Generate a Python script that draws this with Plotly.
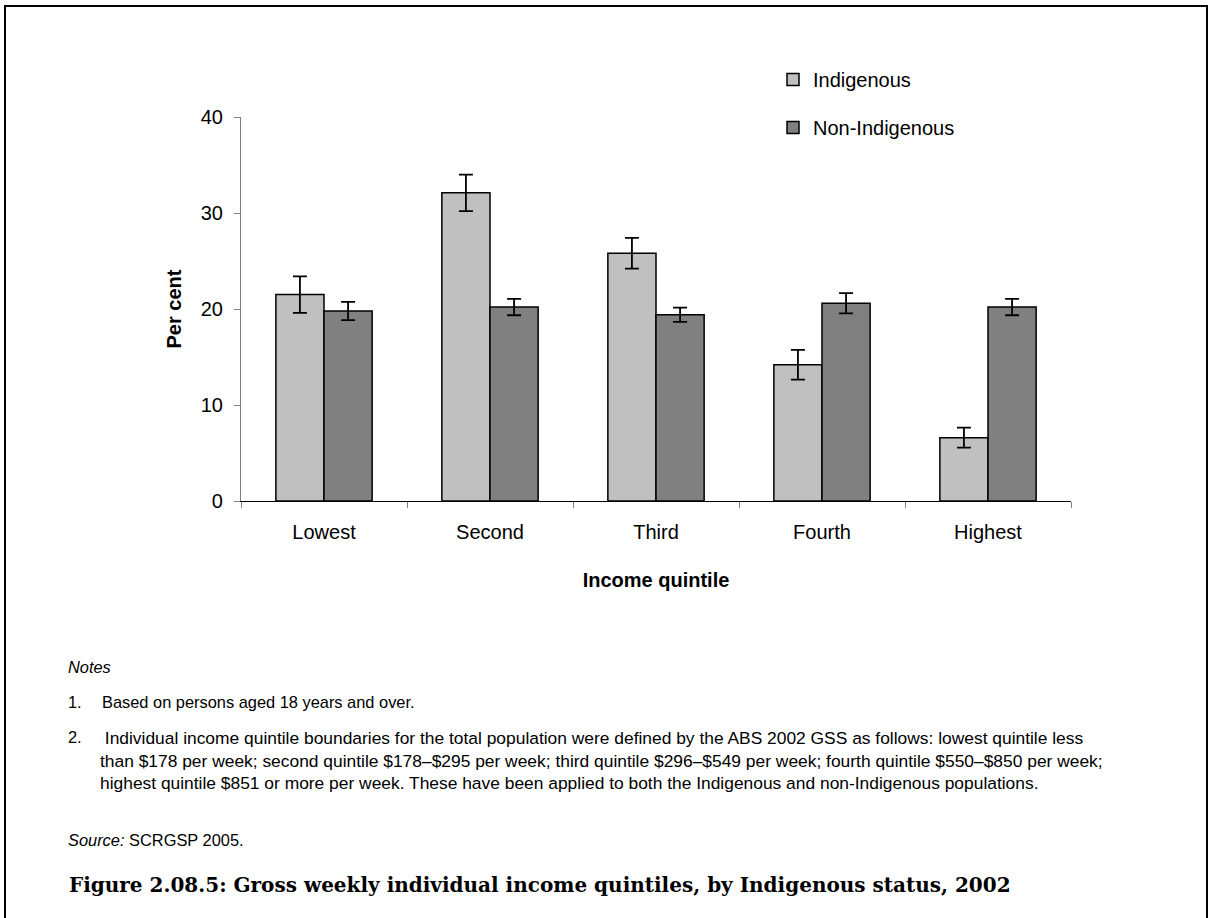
import plotly.graph_objects as go

categories = ["Lowest", "Second", "Third", "Fourth", "Highest"]
indigenous = [21.5, 32.1, 25.8, 14.2, 6.6]
indigenous_err = [1.9, 1.9, 1.6, 1.55, 1.05]
non_indigenous = [19.8, 20.2, 19.4, 20.6, 20.2]
non_indigenous_err = [0.95, 0.85, 0.75, 1.05, 0.85]
y_ticks = [0, 10, 20, 30, 40]

W, H = 1212, 918
L, R, T, B = 241, 1071, 117, 501  # plot area in pixels


def px(x):
    return (x - L) / (R - L)


def py(y):
    return (B - y) / (B - T)


fig = go.Figure()
fig.add_trace(go.Bar(
    name="Indigenous", x=categories, y=indigenous,
    marker=dict(color="#C0C0C0", line=dict(color="black", width=1.5)),
    error_y=dict(type="data", array=indigenous_err, color="black", thickness=1.8, width=7),
    legendgroup="a",
))
fig.add_trace(go.Bar(
    name="Non-Indigenous", x=categories, y=non_indigenous,
    marker=dict(color="#808080", line=dict(color="black", width=1.5)),
    error_y=dict(type="data", array=non_indigenous_err, color="black", thickness=1.8, width=7),
    legendgroup="b",
))

font_main = "Liberation Sans, Arial, sans-serif"

fig.update_layout(
    width=W, height=H,
    margin=dict(l=L, r=W - R, t=T, b=H - B, pad=0),
    paper_bgcolor="white", plot_bgcolor="white",
    barmode="group", bargap=0.42, bargroupgap=0,
    font=dict(family=font_main, size=20, color="black"),
    showlegend=True,
    legend=dict(x=px(773), y=py(60), xanchor="left", yanchor="top",
                font=dict(size=20), tracegroupgap=19, bgcolor="rgba(0,0,0,0)",
                itemwidth=30),
    xaxis=dict(
        showline=True, linecolor="black", linewidth=1.2,
        ticks="outside", ticklen=6, tickcolor="#808080", tickson="boundaries",
        showgrid=False, tickfont=dict(size=20), ticklabelstandoff=13,
        title=dict(text="<b>Income quintile</b>", font=dict(size=20), standoff=30),
    ),
    yaxis=dict(
        range=[0, 40], tickvals=y_ticks, showline=True, linecolor="#808080", linewidth=1.2,
        ticks="outside", ticklen=6, tickcolor="#808080", showgrid=False, zeroline=False,
        tickfont=dict(size=20), ticklabelstandoff=7,
        title=dict(text="<b>Per cent</b>", font=dict(size=20), standoff=13),
    ),
)

# outer frame
fig.add_shape(type="rect", xref="paper", yref="paper",
              x0=px(5), x1=px(1207), y0=py(930), y1=py(6),
              line=dict(color="black", width=2), fillcolor="rgba(0,0,0,0)")

notes_font = dict(family=font_main, size=16.4, color="black")
para_font = dict(family=font_main, size=17.4, color="black")


def note(x, y, text, font=notes_font):
    fig.add_annotation(xref="paper", yref="paper", x=px(x), y=py(y), text=text,
                       showarrow=False, xanchor="left", yanchor="middle", align="left",
                       font=font)


note(66, 667, "<i>Notes</i>")
note(66, 702, "1.")
note(100, 702, "Based on persons aged 18 years and over.")
note(66, 737, "2.")
fig.add_annotation(
    xref="paper", yref="paper", x=px(98), y=py(726), xanchor="left", yanchor="top",
    align="left", showarrow=False, font=para_font,
    text=(" Individual income quintile boundaries for the total population were defined by the ABS 2002 GSS as follows: lowest quintile less<br>"
          "than $178 per week; second quintile $178–$295 per week; third quintile $296–$549 per week; fourth quintile $550–$850 per week;<br>"
          "highest quintile $851 or more per week. These have been applied to both the Indigenous and non-Indigenous populations."),
)
note(66, 840, "<i>Source:</i> SCRGSP 2005.")
note(67, 885, "<b>Figure 2.08.5: Gross weekly individual income quintiles, by Indigenous status, 2002</b>",
     font=dict(family="DejaVu Serif, Liberation Serif, serif", size=20, color="black"))

fig.write_html("out.html", config={"displayModeBar": False},
               post_script="document.body.style.margin='0';")
